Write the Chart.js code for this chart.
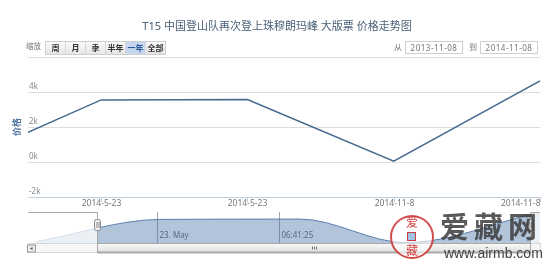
<!DOCTYPE html>
<html>
<head>
<meta charset="utf-8">
<script src="https://cdn.jsdelivr.net/npm/chart.js@4"></script>
<style>
  body { margin: 0; background: #fff; font-family: "Noto Sans", "Noto Sans CJK SC", sans-serif; }
  #wrap { position: relative; width: 554px; height: 267px; overflow: hidden; }
  canvas { position: absolute; left: 0; }
  .t { position: absolute; white-space: nowrap; line-height: 1; }
  #title { top: 20px; left: 0; width: 554px; text-align: center; font-size: 11px; color: #4a6178; }
  #zoomLbl { left: 26px; top: 43px; font-size: 7.5px; color: #777; }
  #btns { position: absolute; left: 45px; top: 41px; height: 12px; display: flex; border: 1px solid #cfcfcf; }
  #btns span { width: 19px; height: 12px; font-size: 8px; line-height: 12px; text-align: center; color: #333;
    background: linear-gradient(#fafafa, #e6e6e6); border-right: 1px solid #d8d8d8; font-weight: bold; }
  #btns span.on { background: #c6d7ef; color: #2c5a98; }
  #btns span:last-child { border-right: none; }
  .lbl { font-size: 8px; color: #777; top: 43px; }
  .box { position: absolute; top: 41px; height: 11px; width: 56px; border: 1px solid #cfcfcf; font-size: 8px;
    line-height: 11px; text-align: center; color: #777; letter-spacing: 0.5px; }
  #seal { position: absolute; left: 390px; top: 215px; width: 40px; height: 40px; border: 2.5px solid rgba(205,45,45,0.85);
    border-radius: 50%; color: rgba(205,45,45,0.9); font-size: 12px; background: rgba(255,255,255,0.6); }
  #seal .a { position: absolute; left: 14px; top: 0px; line-height: 1; }
  #seal .b { position: absolute; left: 14px; top: 28px; line-height: 1; }
  #seal .sq { position: absolute; left: 15px; top: 15px; width: 7px; height: 7px; border: 1.5px solid rgba(205,45,45,0.9); background: #9cc3e6; }
  #wm1 { left: 440px; top: 212px; font-size: 29px; font-weight: bold; color: rgba(60,60,60,0.85); letter-spacing: 5px; }
  #wm2 { left: 444px; top: 246px; font-size: 14px; font-family: "Liberation Sans", sans-serif; color: #444; }
</style>
</head>
<body>
<div id="wrap">
  <canvas id="main" width="554" height="267" style="top:0"></canvas>
  <canvas id="nav" width="554" height="50" style="top:205px"></canvas>
  <div class="t" id="title">T15 中国登山队再次登上珠穆朗玛峰 大版票 价格走势图</div>
  <div class="t" id="zoomLbl">缩放</div>
  <div id="btns"><span>周</span><span>月</span><span>季</span><span>半年</span><span class="on">一年</span><span>全部</span></div>
  <div class="t lbl" style="left:394px">从</div>
  <div class="box" style="left:405px">2013-11-08</div>
  <div class="t lbl" style="left:469px">到</div>
  <div class="box" style="left:480px">2014-11-08</div>
  <div id="seal"><span class="a">爱</span><span class="sq"></span><span class="b">藏</span></div>
  <div class="t" id="wm1">爱藏网</div>
  <div class="t" id="wm2">www.airmb.com</div>
</div>
<script>
// main series (ordinal positions on the x axis)
const pointPos = [0, 1, 3, 5, 7];
const prices = [1700, 3550, 3570, 50, 4630];

const xTickPos = [1, 3, 5, 7];
const xTickLabels = ['2014-5-23', '2014-5-23', '2014-11-8', '2014-11-8'];
const yTicks = [-2000, 0, 2000, 4000, 6000];

// navigator series (days from start)
const navDays = [6, 94, 194, 269, 365];
const navValues = [200, 3500, 3550, 50, 4600];
const navRange = [49, 358];
const navTickDays = [92, 179];
const navTickLabels = ['23. May', '06:41:25'];

const mainDeco = {
  id: 'mainDeco',
  afterDraw(chart) {
    const { ctx, scales: { x, y }, chartArea: a } = chart;
    ctx.save();
    ctx.font = '8px "Noto Sans"';
    ctx.fillStyle = '#8a8a8a';
    ctx.textAlign = 'left';
    ctx.textBaseline = 'alphabetic';
    yTicks.slice(0, -1).forEach(v => {
      ctx.fillText((v / 1000) + 'k', a.left + 1, y.getPixelForValue(v) - 3);
    });

    ctx.strokeStyle = '#c0d0e0';
    ctx.lineWidth = 1;
    ctx.font = '8.5px "Noto Sans"';
    ctx.fillStyle = '#777';
    ctx.textBaseline = 'middle';
    xTickPos.forEach((v, i) => {
      const px = Math.round(x.getPixelForValue(v)) + 0.5;
      ctx.beginPath();
      ctx.moveTo(px, a.bottom);
      ctx.lineTo(px, a.bottom + 5);
      ctx.stroke();
      const last = i === xTickPos.length - 1;
      ctx.textAlign = last ? 'right' : 'center';
      ctx.fillText(xTickLabels[i], px, a.bottom + 7);
    });

    ctx.translate(17, 127);
    ctx.rotate(-Math.PI / 2);
    ctx.font = 'bold 9px "Noto Sans CJK SC"';
    ctx.fillStyle = '#4d759e';
    ctx.textAlign = 'center';
    ctx.fillText('价格', 0, 0);
    ctx.restore();
  }
};

new Chart(document.getElementById('main'), {
  type: 'line',
  data: {
    datasets: [{
      data: pointPos.map((p, i) => ({ x: p, y: prices[i] })),
      borderColor: '#46698f',
      borderWidth: 1.5,
      pointRadius: 0,
      tension: 0
    }]
  },
  options: {
    responsive: false,
    animation: false,
    layout: { padding: { left: 28, right: 14, top: 57, bottom: 70 } },
    plugins: { legend: { display: false }, tooltip: { enabled: false } },
    scales: {
      x: {
        type: 'linear', min: 0, max: 7,
        ticks: { display: false },
        grid: { display: false, drawTicks: false },
        border: { display: true, color: '#c0d0e0' }
      },
      y: {
        min: -2000, max: 6000,
        afterBuildTicks: s => { s.ticks = yTicks.map(v => ({ value: v })); },
        ticks: { display: false },
        grid: { color: '#dedede', drawTicks: false },
        border: { display: false }
      }
    }
  },
  plugins: [mainDeco]
});

const navDeco = {
  id: 'navDeco',
  afterDatasetsDraw(chart) {
    const { ctx, scales: { x }, chartArea: a } = chart;
    const x0 = Math.round(x.getPixelForValue(navRange[0])) + 0.5;
    const x1 = Math.round(x.getPixelForValue(navRange[1])) + 0.5;
    ctx.save();
    // navigator grid + labels
    ctx.strokeStyle = 'rgba(90,110,140,0.6)';
    ctx.lineWidth = 1;
    ctx.font = '8px "Noto Sans"';
    ctx.fillStyle = '#5a6a80';
    ctx.textBaseline = 'middle';
    navTickDays.forEach((d, i) => {
      const px = Math.round(x.getPixelForValue(d)) + 0.5;
      ctx.beginPath(); ctx.moveTo(px, a.top); ctx.lineTo(px, a.bottom); ctx.stroke();
      ctx.fillText(navTickLabels[i], px + 2, a.bottom - 7);
    });
    // mask outside selection
    ctx.fillStyle = 'rgba(255,255,255,0.75)';
    ctx.fillRect(a.left, a.top, x0 - a.left, a.bottom - a.top);
    ctx.fillRect(x1, a.top, a.right - x1, a.bottom - a.top);

    // scrollbar
    const sTop = a.bottom + 0.5, sBot = a.bottom + 9.5;
    ctx.fillStyle = '#f6f6f6';
    ctx.fillRect(a.left, sTop, a.right - a.left, sBot - sTop);
    ctx.strokeStyle = '#d6d6d6';
    ctx.strokeRect(a.left + 0.5, sTop, a.right - a.left, sBot - sTop);
    const g = ctx.createLinearGradient(0, sTop, 0, sBot);
    g.addColorStop(0, '#fbfbfb'); g.addColorStop(1, '#dcdcdc');
    ctx.fillStyle = g;
    ctx.fillRect(x0, sTop, x1 - x0, sBot - sTop);
    ctx.strokeStyle = '#a9a9a9';
    ctx.strokeRect(x0, sTop, x1 - x0, sBot - sTop);
    ctx.beginPath(); ctx.moveTo(x0, sBot); ctx.lineTo(x1, sBot); ctx.lineWidth = 2; ctx.stroke();
    ctx.lineWidth = 1;
    const mid = Math.round((x0 + x1) / 2) + 0.5;
    ctx.strokeStyle = '#777';
    [-2, 0, 2].forEach(d => { ctx.beginPath(); ctx.moveTo(mid + d, sTop + 3); ctx.lineTo(mid + d, sTop + 6); ctx.stroke(); });
    // left arrow button
    ctx.fillStyle = '#ececec';
    ctx.fillRect(a.left - 1, sTop + 1, 8, 7);
    ctx.strokeStyle = '#999';
    ctx.strokeRect(a.left - 0.5, sTop + 1.5, 8, 7);
    ctx.fillStyle = '#555';
    ctx.beginPath(); ctx.moveTo(a.left + 2, sTop + 5); ctx.lineTo(a.left + 4.5, sTop + 3.5); ctx.lineTo(a.left + 4.5, sTop + 6.5); ctx.fill();

    // outline
    ctx.strokeStyle = '#a8a8a8';
    ctx.beginPath();
    ctx.moveTo(a.left, a.top + 0.5);
    ctx.lineTo(x0, a.top + 0.5);
    ctx.lineTo(x0, sBot);
    ctx.moveTo(x1, sBot);
    ctx.lineTo(x1, a.top + 0.5);
    ctx.lineTo(a.right, a.top + 0.5);
    ctx.stroke();
    // handles
    [x0, x1].forEach(px => {
      ctx.fillStyle = '#f2f2f2';
      ctx.strokeStyle = '#888';
      ctx.beginPath();
      ctx.roundRect(px - 3, a.top + 7.5, 6, 11, 2);
      ctx.fill(); ctx.stroke();
      ctx.beginPath();
      ctx.moveTo(px - 0.5, a.top + 10); ctx.lineTo(px - 0.5, a.top + 16);
      ctx.moveTo(px + 1.5, a.top + 10); ctx.lineTo(px + 1.5, a.top + 16);
      ctx.stroke();
    });
    ctx.restore();
  }
};

new Chart(document.getElementById('nav'), {
  type: 'line',
  data: {
    datasets: [{
      data: navDays.map((d, i) => ({ x: d, y: navValues[i] })),
      borderColor: '#5a7fae',
      borderWidth: 1,
      backgroundColor: 'rgba(69,114,167,0.42)',
      fill: 'start',
      pointRadius: 0,
      cubicInterpolationMode: 'monotone'
    }]
  },
  options: {
    responsive: false,
    animation: false,
    layout: { padding: { left: 28, right: 14, top: 7, bottom: 12 } },
    plugins: { legend: { display: false }, tooltip: { enabled: false } },
    scales: {
      x: { type: 'linear', display: false, min: 0, max: 365 },
      y: { display: false, min: 0, max: 4600 }
    }
  },
  plugins: [navDeco]
});
</script>
</body>
</html>
